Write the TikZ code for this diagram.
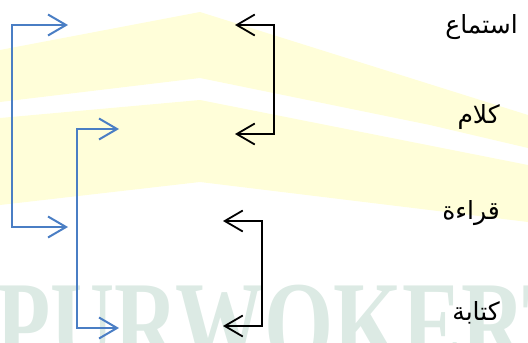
\documentclass[tikz,border=0pt]{standalone}
\usepackage{fontspec}
\usetikzlibrary{arrows.meta}
\TeXXeTstate=1
\newfontfamily\arabicfont[Script=Arabic]{DejaVu Sans}
\newfontfamily\wmfont{Liberation Serif}
\definecolor{arrowblue}{HTML}{4A7EC4}
\definecolor{wmyellow}{HTML}{FFFED9}
\definecolor{wmgreen}{HTML}{DCEAE4}
\begin{document}
\begin{tikzpicture}[x=1pt,y=-1pt,
  lbl/.style={font=\arabicfont\fontsize{25}{29}\selectfont, anchor=east, inner sep=0pt},
  barb/.style={{Straight Barb[length=18pt,width=21pt]}-{Straight Barb[length=18pt,width=21pt]}},
  bluebr/.style={draw=arrowblue, line width=2pt, barb},
  blackbr/.style={draw=black, line width=1.8pt, barb},
  band/.style={fill=wmyellow, draw=none},
  wmtext/.style={font=\wmfont\bfseries\fontsize{120}{120}\selectfont, text=wmgreen, anchor=base west, inner sep=0pt, xscale=0.74}]
\useasboundingbox (0,0) rectangle (528,343);
\begin{scope}
\clip (0,0) rectangle (528,343);
% faint watermark
\fill[band] (0,50) -- (200,12) -- (528,115) -- (528,148) -- (430,125) -- (200,78) -- (0,102) -- cycle;
\fill[band] (0,118) -- (200,100) -- (528,165) -- (528,222) -- (200,182) -- (0,205) -- cycle;
\node[wmtext] (wm) at (-4,364) {PURWOKERTO};
\end{scope}
% labels
\node[lbl] (t1) at (518,27) {\beginR استماع\endR};
\node[lbl] (t2) at (500,117) {\beginR كلام\endR};
\node[lbl] (t3) at (500,213) {\beginR قراءة\endR};
\node[lbl] (t4) at (500,313) {\beginR كتابة\endR};
% blue bracket 1
\coordinate (b1a) at (68,25);
\coordinate (b1t) at (12,25);
\coordinate (b1b) at (12,227);
\coordinate (b1c) at (68,227);
\draw[bluebr] (b1a) -- (b1t) -- (b1b) -- (b1c);
% blue bracket 2
\coordinate (b2a) at (119,129);
\coordinate (b2t) at (77,129);
\coordinate (b2b) at (77,328);
\coordinate (b2c) at (119,328);
\draw[bluebr] (b2a) -- (b2t) -- (b2b) -- (b2c);
% black bracket 1
\coordinate (k1a) at (235,25);
\coordinate (k1t) at (274,25);
\coordinate (k1b) at (274,134);
\coordinate (k1c) at (235,134);
\draw[blackbr] (k1a) -- (k1t) -- (k1b) -- (k1c);
% black bracket 2
\coordinate (k2a) at (223,221);
\coordinate (k2t) at (262,221);
\coordinate (k2b) at (262,326);
\coordinate (k2c) at (223,326);
\draw[blackbr] (k2a) -- (k2t) -- (k2b) -- (k2c);
\end{tikzpicture}
\end{document}
